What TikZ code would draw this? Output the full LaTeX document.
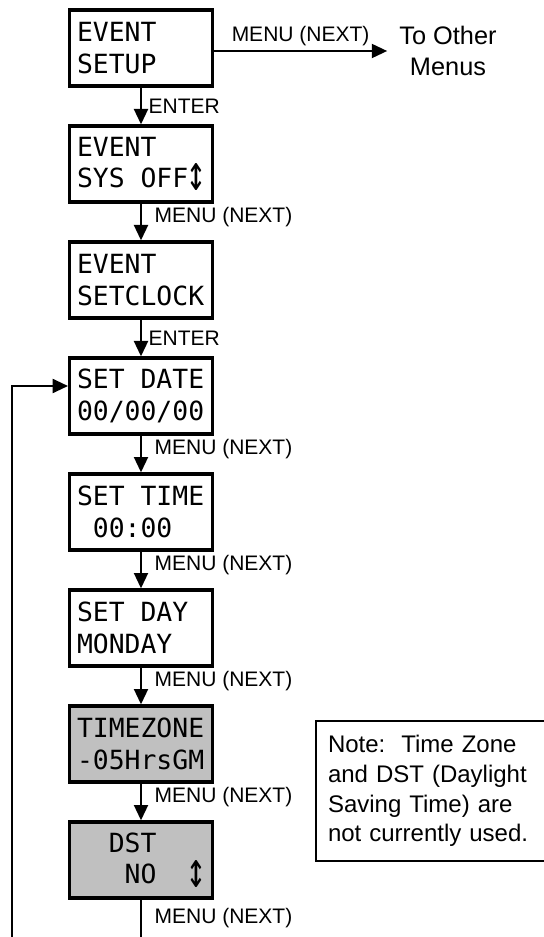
\documentclass[tikz,border=0pt]{standalone}
\usepackage{fontspec}
\setmainfont{Liberation Sans}
\newfontfamily\lcd{DejaVu Sans Mono}
\usetikzlibrary{positioning,arrows.meta}
\definecolor{lcdgray}{RGB}{192,192,192}
\newcommand\blank{\hphantom{0}}
\newcommand\updn{\makebox[0.602em]{\raisebox{-0.12em}{\scalebox{1.25}[1.9]{↕}}}}

\begin{document}
\begin{tikzpicture}[x=0.75pt,y=0.75pt]%
  \tikzstyle{lcdbox}=[rectangle,draw,line width=2.5pt,minimum width=107pt,minimum height=57pt,inner xsep=5.5pt,inner ysep=0pt,text width=96pt,align=left,font=\lcd\fontsize{19.8}{23.6}\selectfont]
  \tikzstyle{greybox}=[lcdbox,fill=lcdgray]
  \tikzstyle{arr}=[line width=1.5pt,-{Triangle[length=11.5pt,width=10.5pt]}]
  \tikzstyle{enterlab}=[font=\fontsize{15.75}{18}\selectfont,anchor=west,inner sep=0pt,xshift=5pt]
  \tikzstyle{menulab}=[font=\fontsize{15.75}{18}\selectfont,anchor=west,inner sep=0pt,xshift=9.5pt]
  \useasboundingbox (0,0) rectangle (543,-937);
  % menu boxes
  \node(setup)[lcdbox] at (141,-48) {EVENT\\SETUP};
  \node(sysoff)[lcdbox,below=27.5pt of setup] {EVENT\\SYS\blank OFF\updn};
  \node(clock)[lcdbox,below=27.5pt of sysoff] {EVENT\\SETCLOCK};
  \node(date)[lcdbox,below=27.5pt of clock] {SET\blank DATE\\00/00/00};
  \node(time)[lcdbox,below=27.5pt of date] {SET\blank TIME\\\blank 00:00};
  \node(day)[lcdbox,below=27.5pt of time] {SET\blank DAY\\MONDAY};
  \node(zone)[greybox,below=27.5pt of day] {TIMEZONE\\-05HrsGM};
  \node(dst)[greybox,below=27.5pt of zone] {\blank\blank DST\\\blank\blank\blank NO\blank\blank\updn};
  \node(other)[align=center,inner xsep=9pt,font=\fontsize{19}{23.25}\selectfont] at (448,-51) {To Other\\Menus};
  % note, its right side runs off the page
  \node(note)[draw,line width=1.5pt,anchor=north west,text width=260pt,minimum height=105pt,inner xsep=9pt,align=left,font=\fontsize{18}{22.2}\selectfont] at (315,-720)
    {Note:\ \ Time Zone\\and DST (Daylight\\Saving Time) are\\not currently used.};
  \coordinate(dstend) at (dst.south |- 0,-945);
  \coordinate(loopend) at (12,-945);
  % connectors
  \draw[arr] (setup.east |- other.west) -- (other.west) node[midway,above,font=\fontsize{15.75}{18}\selectfont]{MENU (NEXT)};
  \draw[arr] (setup) -- (sysoff) node[enterlab,pos=0.5]{ENTER};
  \draw[arr] (sysoff) -- (clock) node[menulab,pos=0.36]{MENU (NEXT)};
  \draw[arr] (clock) -- (date) node[enterlab,pos=0.5]{ENTER};
  \draw[arr] (date) -- (time) node[menulab,pos=0.36]{MENU (NEXT)};
  \draw[arr] (time) -- (day) node[menulab,pos=0.36]{MENU (NEXT)};
  \draw[arr] (day) -- (zone) node[menulab,pos=0.36]{MENU (NEXT)};
  \draw[arr] (zone) -- (dst) node[menulab,pos=0.36]{MENU (NEXT)};
  \draw[line width=1.5pt] (dst) -- (dstend) node[menulab,pos=0.4]{MENU (NEXT)};
  \draw[arr] (loopend) |- ([yshift=7.5pt]date.west);
\end{tikzpicture}
\end{document}
